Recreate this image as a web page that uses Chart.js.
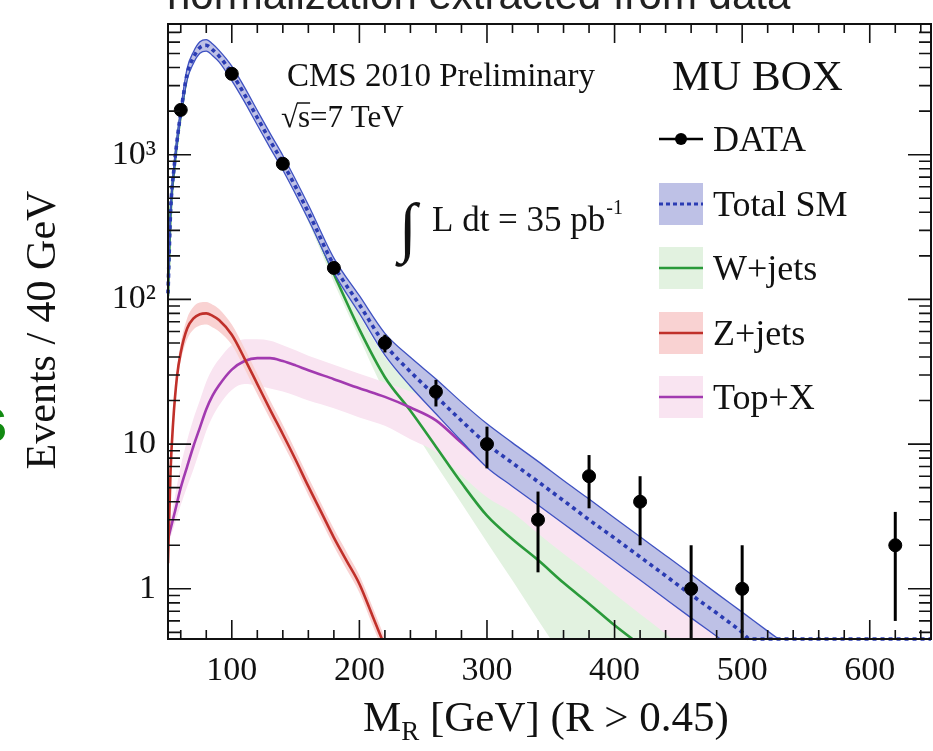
<!DOCTYPE html>
<html>
<head>
<meta charset="utf-8">
<script src="https://cdn.jsdelivr.net/npm/chart.js@4.4.0/dist/chart.umd.min.js"></script>
<style>
  html, body { margin: 0; padding: 0; background: #fff; overflow: hidden; }
  canvas { display: block; }
</style>
</head>
<body>
<canvas id="mrChart" width="933" height="751"></canvas>
<script>
// M_R spectrum in the MU box: data with Poisson errors and the SM fit components

const dataX = [60, 100, 140, 180, 220, 260, 300, 340, 380, 420, 460, 500, 620];
const dataY = [2040, 3620, 865, 165, 50, 23, 10, 3, 6, 4, 1, 1, 2];
const dataErr = [45, 60, 29, 13, 7, 4.8, 3.2, 1.7, 2.4, 2, 1, 1, 1.4];

// total SM (dashed) + band
const smX = [50, 52, 55, 58, 60, 65, 70, 75, 80, 85, 90, 100, 110, 120, 130, 140, 160, 180, 200, 220, 240, 260, 280, 300, 320, 340, 360, 380, 400, 420, 440, 460, 480, 500, 506, 540, 580, 620, 648];
const smY = [110, 400, 850, 1450, 1950, 3600, 4700, 5500, 5700, 5300, 4800, 3650, 2600, 1800, 1250, 880, 400, 172, 92, 49, 31.6, 21.4, 14.5, 10, 7.4, 5.5, 4.07, 3.0, 2.24, 1.66, 1.23, 0.91, 0.68, 0.5, 0.45, 0.45, 0.45, 0.45, 0.45];
const smBandX = [50, 52, 55, 58, 60, 65, 70, 75, 80, 85, 90, 100, 110, 120, 130, 140, 160, 180, 200, 220, 240, 260, 280, 300, 320, 340, 360, 380, 400, 420, 440, 460, 480, 500, 520, 540];
const smUp = [118, 429, 911, 1554, 2090, 3946, 5151, 6028, 6247, 5809, 5261, 4095, 2917, 2020, 1403, 987, 449, 193, 106, 58.3, 39.8, 28.2, 19.5, 13.8, 10.2, 7.6, 5.6, 4.17, 3.09, 2.29, 1.7, 1.26, 0.93, 0.69, 0.51, 0.38];
const smDown = [103, 373, 793, 1353, 1819, 3285, 4288, 5018, 5201, 4836, 4380, 3253, 2317, 1604, 1114, 784, 357, 153, 80, 41.2, 25.1, 16.2, 10.5, 6.9, 5.1, 3.8, 2.82, 2.09, 1.55, 1.15, 0.85, 0.63, 0.47, 0.35, 0.26, 0.19];

// W+jets
const wX = [50, 52, 55, 58, 60, 65, 70, 75, 80, 85, 90, 100, 110, 120, 130, 140, 160, 180, 200, 220, 240, 260, 280, 300, 320, 340, 360, 380, 400, 420, 440];
const wY = [105, 385, 820, 1400, 1880, 3480, 4560, 5380, 5580, 5200, 4710, 3580, 2550, 1760, 1220, 850, 378, 150, 62, 29, 17, 9.6, 5.4, 3.2, 2.2, 1.58, 1.1, 0.79, 0.56, 0.41, 0.3];
const wBandX = [140, 160, 180, 200, 220, 240, 260, 280, 300, 320, 340, 360, 380, 400, 420, 440, 460];
const wUp = [906, 411, 172, 78, 40, 25, 15, 9.0, 5.6, 4.0, 3.0, 2.2, 1.54, 1.06, 0.78, 0.57, 0.42];
const wDown = [788, 342, 131, 54, 23, 13.4, 7.2, 3.9, 2.1, 1.14, 0.61, 0.33, 0.18, 0.1, 0.06, 0.04, 0.03];

// Z+jets
const zX = [50, 52, 54, 57, 60, 65, 70, 75, 80, 85, 90, 100, 110, 120, 130, 140, 150, 160, 170, 180, 190, 200, 210, 220];
const zY = [1.5, 6.5, 14, 29, 43, 63, 74, 79, 80, 77, 72, 57, 39, 26, 17.3, 11.7, 7.8, 5.1, 3.4, 2.26, 1.56, 1.08, 0.66, 0.4];
const zBandX = [50, 52, 54, 57, 60, 65, 70, 75, 80, 85, 90, 100, 110, 120, 130, 140, 150, 160, 170, 180, 190, 200, 210, 220, 230];
const zUp = [1.64, 7.1, 15.3, 32.5, 49.5, 74, 89, 95, 96, 92, 86, 67, 46, 30.5, 20.1, 13.6, 9.0, 5.9, 3.9, 2.6, 1.8, 1.24, 0.76, 0.46, 0.3];
const zDown = [1.37, 5.9, 12.8, 25.9, 37.4, 53, 62, 66, 67, 64, 60, 48.5, 33.2, 22.1, 14.9, 10.1, 6.8, 4.43, 2.96, 1.97, 1.36, 0.94, 0.57, 0.35, 0.22];

// Top+X
const topX = [50, 55, 60, 65, 70, 75, 80, 85, 90, 100, 110, 120, 130, 140, 150, 160, 180, 200, 220, 240, 260, 280, 300, 320, 340, 360, 380, 400, 420, 440, 460, 480, 500];
const topY = [2.2, 3.3, 5.0, 7.0, 9.7, 13.0, 17.4, 21.7, 25.5, 32.7, 37.5, 39.3, 39.3, 37.5, 35, 32.4, 28.1, 24.3, 21.2, 17.9, 14.6, 10.2, 7.2, 5.6, 4.1, 3.05, 2.27, 1.68, 1.25, 0.93, 0.69, 0.52, 0.38];
const topUp = [2.41, 4.15, 7.07, 10.6, 15.0, 20.1, 27, 33.3, 38.6, 48.4, 53, 53, 51.8, 48.3, 44.5, 40.8, 35.4, 30.6, 26.7, 23.1, 19.2, 13.8, 9.9, 7.7, 5.7, 4.2, 3.1, 2.3, 1.73, 1.28, 0.95, 0.72, 0.52];
const topDown = [2.0, 2.75, 3.8, 5.07, 6.7, 9.1, 12.3, 15.5, 18.5, 23.7, 26, 25.4, 24.2, 23.1, 21.6, 20, 17.7, 15.3, 13.4, 10.8, 8.8, 6.1, 4.3, 3.37, 2.41, 1.75, 1.28, 0.92, 0.67, 0.49, 0.35, 0.26, 0.19];

const xTickValues = [100, 200, 300, 400, 500, 600];
const yTickValues = [1, 10, 100, 1000];
const yTickLabels = ['1', '10', '10²', '10³'];

const legendNames = ['DATA', 'Total SM', 'W+jets', 'Z+jets', 'Top+X'];

const SERIF = '"Liberation Serif", "DejaVu Serif", serif';
const C = {
  smLine: '#2b3cb3', smEdge: '#3f52c2', smFill: 'rgb(190,193,230)',
  w: '#2a9a3a', wFill: 'rgb(226,242,224)',
  z: '#c0302a', zFill: 'rgb(249,210,210)',
  top: '#a23ab0', topFill: 'rgb(249,228,241)'
};

const pts = (xs, ys) => xs.map((x, i) => ({ x: x, y: ys[i] }));

function band(xs, up, down, fill, edge, order) {
  const ew = edge ? 1.3 : 0;
  return [
    { data: pts(xs, up), borderColor: edge || 'transparent', borderWidth: ew, pointRadius: 0, fill: false, order: order, cubicInterpolationMode: 'monotone' },
    { data: pts(xs, down), borderColor: edge || 'transparent', borderWidth: ew, pointRadius: 0, fill: '-1', backgroundColor: fill, order: order, cubicInterpolationMode: 'monotone' }
  ];
}

function curve(xs, ys, color, order, extra) {
  return Object.assign({ data: pts(xs, ys), borderColor: color, borderWidth: 2.6, pointRadius: 0, fill: false, order: order, cubicInterpolationMode: 'monotone' }, extra || {});
}

const datasets = [
  ...band(wBandX, wUp, wDown, C.wFill, null, 10),
  ...band(topX, topUp, topDown, C.topFill, null, 9),
  ...band(zBandX, zUp, zDown, C.zFill, null, 8),
  curve(wX, wY, C.w, 7),
  curve(topX, topY, C.top, 6),
  curve(zX, zY, C.z, 5),
  ...band(smBandX, smUp, smDown, C.smFill, C.smEdge, 4),
  curve(smX, smY, C.smLine, 3, { borderWidth: 3.6, borderDash: [4, 4], clip: 4 }),
  { data: pts(dataX, dataY), showLine: false, pointRadius: 6.5, pointBackgroundColor: '#000', pointBorderColor: '#000', order: 1 }
];

function drawLegendSymbol(ctx, i, x0, cy) {
  const w = 44, h = 42;
  ctx.save();
  if (i === 0) {
    ctx.strokeStyle = '#000'; ctx.lineWidth = 2.5;
    ctx.beginPath(); ctx.moveTo(x0, cy); ctx.lineTo(x0 + w, cy); ctx.stroke();
    ctx.fillStyle = '#000';
    ctx.beginPath(); ctx.arc(x0 + w / 2, cy, 6, 0, Math.PI * 2); ctx.fill();
  } else {
    const fills = [null, C.smFill, C.wFill, C.zFill, C.topFill];
    const lines = [null, C.smLine, C.w, C.z, C.top];
    ctx.fillStyle = fills[i];
    ctx.fillRect(x0, cy - h / 2, w, h);
    ctx.strokeStyle = lines[i];
    ctx.lineWidth = i === 1 ? 3 : 2.6;
    if (i === 1) ctx.setLineDash([4, 3]);
    ctx.beginPath(); ctx.moveTo(x0, cy); ctx.lineTo(x0 + w, cy); ctx.stroke();
  }
  ctx.restore();
}

const overlay = {
  id: 'overlay',
  afterDatasetsDraw(chart) {
    const { ctx, chartArea: a, scales: { x, y } } = chart;
    ctx.save();
    ctx.beginPath();
    ctx.rect(a.left, a.top, a.right - a.left, a.bottom - a.top);
    ctx.clip();
    ctx.strokeStyle = '#000';
    ctx.lineWidth = 3;
    dataX.forEach((v, i) => {
      const px = x.getPixelForValue(v);
      const lo = dataY[i] - dataErr[i];
      const top = y.getPixelForValue(dataY[i] + dataErr[i]);
      const bot = lo > 0 ? y.getPixelForValue(lo) : a.bottom;
      ctx.beginPath(); ctx.moveTo(px, top); ctx.lineTo(px, bot); ctx.stroke();
    });
    ctx.restore();
  },
  afterDraw(chart) {
    const { ctx, chartArea: a, scales: { x, y } } = chart;
    ctx.save();

    // frame and inward ticks
    ctx.strokeStyle = '#111';
    ctx.lineWidth = 2;
    ctx.strokeRect(a.left, a.top, a.right - a.left, a.bottom - a.top);
    ctx.lineWidth = 1.6;
    ctx.beginPath();
    for (let v = 60; v < x.max; v += 20) {
      const px = x.getPixelForValue(v);
      const len = v % 100 === 0 ? 19 : 9;
      ctx.moveTo(px, a.bottom); ctx.lineTo(px, a.bottom - len);
      ctx.moveTo(px, a.top); ctx.lineTo(px, a.top + len);
    }
    for (let e = -1; e <= 3; e++) {
      for (let k = 1; k <= 9; k++) {
        const v = k * Math.pow(10, e);
        if (v < y.min || v > y.max) continue;
        const py = y.getPixelForValue(v);
        const len = k === 1 ? 23 : 12;
        ctx.moveTo(a.left, py); ctx.lineTo(a.left + len, py);
        ctx.moveTo(a.right, py); ctx.lineTo(a.right - len, py);
      }
    }
    ctx.stroke();

    // title line above the frame
    ctx.fillStyle = '#222';
    ctx.font = '42px "Liberation Sans", Arial, sans-serif';
    ctx.textBaseline = 'alphabetic';
    ctx.textAlign = 'left';
    ctx.fillText('normalization extracted from data', 167, 9);

    ctx.fillStyle = '#128a12';
    ctx.font = 'bold 64px "Liberation Sans", Arial, sans-serif';
    ctx.fillText('s', -28, 442);

    // axis titles
    ctx.fillStyle = '#111';
    ctx.font = '43px ' + SERIF;
    ctx.fillText('M', 363, 731);
    let cx = 363 + ctx.measureText('M').width;
    ctx.font = '27px ' + SERIF;
    ctx.fillText('R', cx, 740);
    cx += ctx.measureText('R').width;
    ctx.font = '43px ' + SERIF;
    ctx.fillText(' [GeV] (R > 0.45)', cx, 731);

    ctx.save();
    ctx.translate(55, 330);
    ctx.rotate(-Math.PI / 2);
    ctx.textAlign = 'center';
    ctx.font = '42px ' + SERIF;
    ctx.fillText('Events / 40 GeV', 0, 0);
    ctx.restore();

    // labels inside the frame
    ctx.font = '33px ' + SERIF;
    ctx.fillText('CMS 2010 Preliminary', 287, 86);
    ctx.font = '31px ' + SERIF;
    ctx.fillText('√', 281, 127);
    let sx = 281 + ctx.measureText('√').width;
    ctx.fillText('s=7 TeV', sx, 127);
    const sw = ctx.measureText('s').width;
    ctx.lineWidth = 1.5;
    ctx.beginPath(); ctx.moveTo(sx - 1, 103); ctx.lineTo(sx + sw, 103); ctx.stroke();

    ctx.font = '66px ' + SERIF;
    ctx.fillText('∫', 399, 249);
    ctx.font = '35px ' + SERIF;
    ctx.fillText('L dt = 35 pb', 432, 231);
    const lw = ctx.measureText('L dt = 35 pb').width;
    ctx.font = '20px ' + SERIF;
    ctx.fillText('-1', 432 + lw + 1, 214);

    ctx.font = '43px ' + SERIF;
    ctx.fillText('MU BOX', 672, 90);

    // legend
    const rows = [139, 204, 268, 333, 397];
    ctx.font = '36px ' + SERIF;
    legendNames.forEach((name, i) => {
      drawLegendSymbol(ctx, i, 659, rows[i]);
      ctx.fillStyle = '#111';
      ctx.fillText(name, 713, rows[i] + 12);
    });

    ctx.restore();
  }
};

const tickFont = { family: '"Liberation Serif", "DejaVu Serif", serif', size: 34 };

new Chart(document.getElementById('mrChart'), {
  type: 'line',
  data: { datasets: datasets },
  options: {
    responsive: false,
    animation: false,
    devicePixelRatio: 1,
    layout: { autoPadding: false, padding: { top: 24, right: 2, left: 0, bottom: 0 } },
    plugins: { legend: { display: false }, tooltip: { enabled: false } },
    scales: {
      x: {
        type: 'linear', min: 50, max: 648,
        afterBuildTicks: s => { s.ticks = xTickValues.map(v => ({ value: v })); },
        afterFit: s => { s.height = 112; s.paddingLeft = 0; s.paddingRight = 0; },
        ticks: { font: tickFont, color: '#111', padding: 12, maxRotation: 0, autoSkip: false },
        grid: { display: false, drawTicks: false },
        border: { display: false }
      },
      y: {
        type: 'logarithmic', min: 0.45, max: 8000,
        afterBuildTicks: s => { s.ticks = yTickValues.map(v => ({ value: v })); },
        afterFit: s => { s.width = 168; s.paddingTop = 0; s.paddingBottom = 0; },
        ticks: { font: tickFont, color: '#111', padding: 12, autoSkip: false,
                 callback: v => yTickLabels[yTickValues.indexOf(v)] },
        grid: { display: false, drawTicks: false },
        border: { display: false }
      }
    }
  },
  plugins: [overlay]
});
</script>
</body>
</html>
